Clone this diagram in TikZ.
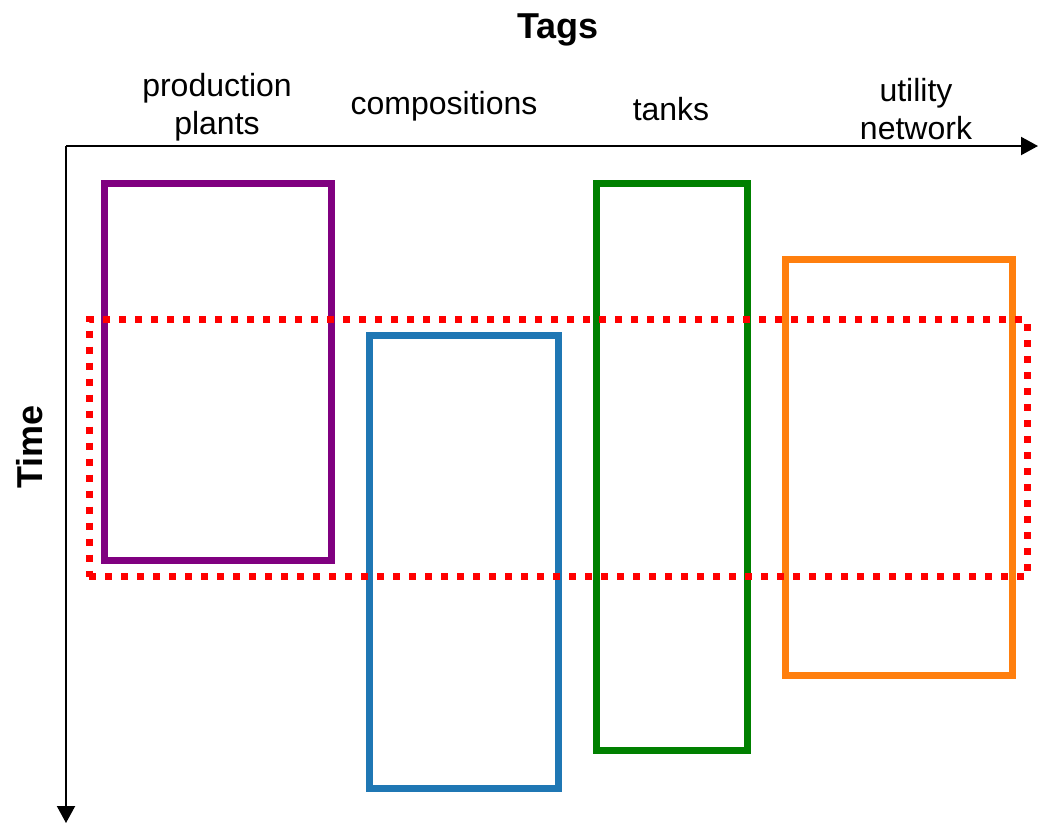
\documentclass[tikz,border=0pt]{standalone}
\usepackage{fontspec}
\setmainfont{Liberation Sans}
\usetikzlibrary{arrows.meta}
\definecolor{cpurple}{HTML}{800080}
\definecolor{cblue}{HTML}{1F77B4}
\definecolor{cgreen}{HTML}{008000}
\definecolor{corange}{HTML}{FF7F0E}
\definecolor{cred}{HTML}{FF0000}
\begin{document}
\begin{tikzpicture}[x=1pt,y=-1pt,
  axis/.style={line width=2pt,-{Triangle[width=18pt,length=17pt]}},
  tagbox/.style={draw=#1,line width=7pt,inner sep=0pt,outer sep=0pt},
  window/.style={draw=cred,line width=7pt,dash pattern=on 7pt off 9pt,inner sep=0pt},
  label/.style={font=\fontsize{32}{38}\selectfont,align=center},
  title/.style={font=\fontsize{36}{40}\selectfont\bfseries}]
\useasboundingbox (0,0) rectangle (1038,823);
% axes
\coordinate (o) at (66,146);
\coordinate (xend) at (1038,146);
\coordinate (yend) at (66,823);
\draw[axis] (o) -- (xend);
\draw[axis] (o) -- (yend);
\node[title] (tags) at (558,30) {Tags};
\node[title,rotate=90] (time) at (30,447) {Time};
% tag groups
\node[label] (lpp) at (217,107) {production\\plants};
\node[label] (lcomp) at (444,106) {compositions};
\node[label] (ltank) at (671,109) {tanks};
\node[label] (lutil) at (916,109) {utility\\network};
% time ranges of each group
\node[tagbox=cpurple,minimum width=227pt,minimum height=377pt] (pp) at (217.5,371.5) {};
\node[tagbox=cblue,minimum width=189pt,minimum height=453pt] (comp) at (463.5,561.5) {};
\node[tagbox=cgreen,minimum width=151pt,minimum height=567pt] (tank) at (671.5,466.5) {};
\node[tagbox=corange,minimum width=227pt,minimum height=416pt] (util) at (898.5,467) {};
% common time window
\node[window,minimum width=938pt,minimum height=257pt] (win) at (558,448) {};
\end{tikzpicture}
\end{document}
